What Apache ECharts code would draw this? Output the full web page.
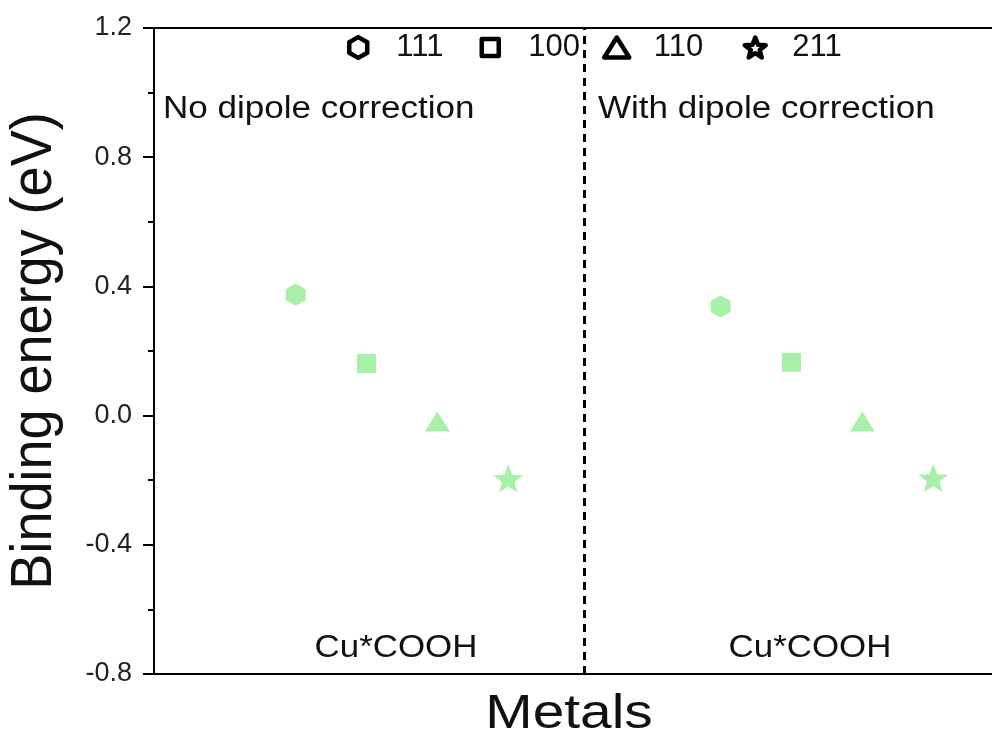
<!DOCTYPE html>
<html>
<head>
<meta charset="utf-8">
<script src="https://cdn.jsdelivr.net/npm/echarts@6/dist/echarts.min.js"></script>
<style>
  html, body { margin: 0; padding: 0; background: #ffffff; }
  #chart { width: 992px; height: 739px; }
</style>
</head>
<body>
<div id="chart"></div>
<script>
// Binding energies of Cu*COOH on four Cu facets, without and with dipole correction
const facets = ['111', '100', '110', '211'];
const noDipole = [0.374, 0.161, -0.018, -0.195];
const withDipole = [0.338, 0.165, -0.018, -0.193];
const slotsNo = [1, 2, 3, 4];
const slotsWith = [7, 8, 9, 10];
const dividerX = 5.08;
const xRange = [-1, 10.83];
const yTickLabels = ['-0.8', '-0.4', '0.0', '0.4', '0.8', '1.2'];
const panelTitles = ['No dipole correction', 'With dipole correction'];
const adsorbate = 'Cu*COOH';

const FONT = '"Liberation Sans", Arial, sans-serif';
const GREEN = '#a8f0a8';

const hexPath = 'path://M0,-1L0.866,-0.5L0.866,0.5L0,1L-0.866,0.5L-0.866,-0.5Z';
const starPath = 'path://M0,-1L0.247,-0.34L0.951,-0.309L0.399,0.13L0.588,0.809L0,0.42L-0.588,0.809L-0.399,0.13L-0.951,-0.309L-0.247,-0.34Z';
const shapes = [hexPath, 'rect', 'triangle', starPath];
const sizes = [[20, 22], [19, 19], [25, 20], [30, 28]];

// legend entries, one component each so icon and text sit where wanted
// [left, itemWidth, itemHeight, text gap, outline width]
const legendIcon = [
  [347, 18, 21, 24, 4.5],
  [479.5, 17, 17, 24.5, 4.5],
  [602, 25, 20, 19.5, 4.5],
  [742.5, 21, 20, 21.5, 4.5]
];

const chart = echarts.init(document.getElementById('chart'), null, { renderer: 'canvas' });

const series = facets.map((f, i) => ({
  name: f,
  type: 'scatter',
  symbol: shapes[i],
  symbolSize: sizes[i],
  itemStyle: { color: GREEN, opacity: 1 },
  emphasis: { disabled: true },
  z: 3,
  data: [[slotsNo[i], noDipole[i]], [slotsWith[i], withDipole[i]]]
}));

series[0].markLine = {
  silent: true,
  symbol: 'none',
  label: { show: false },
  lineStyle: { type: [8, 6], width: 3, color: '#000' },
  data: [{ xAxis: dividerX }]
};

const legends = facets.map((f, i) => ({
  show: true,
  selectedMode: false,
  orient: 'horizontal',
  left: legendIcon[i][0],
  top: 32,
  padding: 0,
  itemWidth: legendIcon[i][1],
  itemHeight: legendIcon[i][2],
  data: [{
    name: f,
    icon: shapes[i],
    itemStyle: {
      color: '#ffffff',
      borderColor: '#000',
      borderWidth: legendIcon[i][4],
      borderJoin: 'round'
    }
  }],
  textStyle: {
    fontFamily: FONT,
    fontSize: 31,
    color: '#111',
    padding: [0, 0, 0, legendIcon[i][3]]
  }
}));

function label(text, x, y, size, sx, align, extra) {
  return Object.assign({
    type: 'text',
    x: x,
    y: y,
    scaleX: sx,
    silent: true,
    style: {
      text: text,
      font: size + 'px ' + FONT,
      fill: '#111',
      align: align,
      textAlign: align,
      verticalAlign: 'middle',
      textVerticalAlign: 'middle'
    }
  }, extra || {});
}

const option = {
  backgroundColor: '#ffffff',
  animation: false,
  grid: { left: 154, top: 28, bottom: 65, right: 0, containLabel: false },
  legend: legends,
  xAxis: [
    {
      type: 'value', position: 'bottom', min: xRange[0], max: xRange[1],
      axisLine: { show: true, onZero: false, lineStyle: { color: '#000', width: 2 } },
      axisTick: { show: false }, axisLabel: { show: false }, splitLine: { show: false }
    },
    {
      type: 'value', position: 'top', min: xRange[0], max: xRange[1],
      axisLine: { show: true, onZero: false, lineStyle: { color: '#000', width: 2 } },
      axisTick: { show: false }, axisLabel: { show: false }, splitLine: { show: false }
    }
  ],
  yAxis: {
    type: 'value',
    min: -0.8, max: 1.2, interval: 0.4,
    axisLine: { show: true, onZero: false, lineStyle: { color: '#000', width: 2 } },
    axisTick: { show: true, inside: false, length: 11, lineStyle: { color: '#000', width: 2 } },
    minorTick: { show: true, splitNumber: 2, length: 6, lineStyle: { color: '#000', width: 2 } },
    splitLine: { show: false },
    axisLabel: {
      margin: 22,
      fontFamily: FONT,
      fontSize: 27,
      color: '#222',
      formatter: (v) => {
        const idx = Math.round((v + 0.8) / 0.4);
        return yTickLabels[idx] !== undefined ? yTickLabels[idx] : '';
      }
    }
  },
  graphic: [
    label(panelTitles[0], 163, 109, 31, 1.13, 'left'),
    label(panelTitles[1], 598, 109, 31, 1.13, 'left'),
    label(adsorbate, 396, 648, 32, 1.09, 'center'),
    label(adsorbate, 810, 648, 32, 1.09, 'center'),
    label('Metals', 569, 714, 49, 1.16, 'center'),
    label('Binding energy (eV)', 35.5, 351, 54, 1, 'center', { rotation: Math.PI / 2, scaleY: 1.05 })
  ],
  series: series
};

chart.setOption(option);
</script>
</body>
</html>
